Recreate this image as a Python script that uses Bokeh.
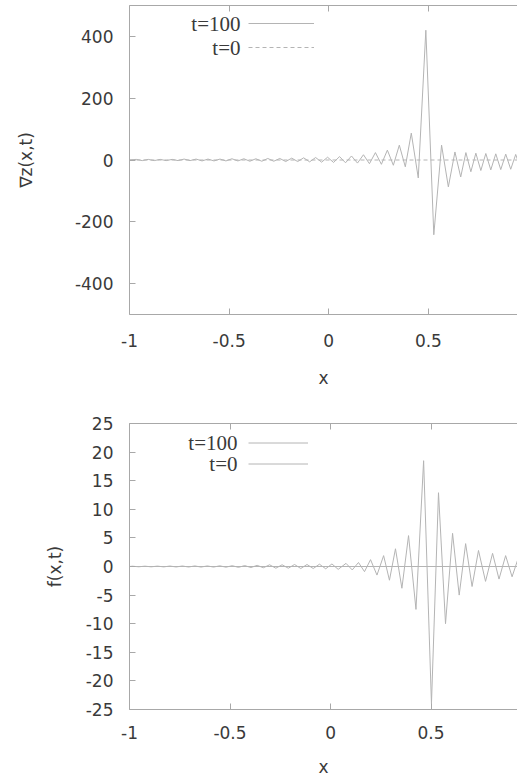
from bokeh.plotting import figure
from bokeh.models import Range1d, FixedTicker, LinearAxis, Legend, LegendItem, Label
from bokeh.layouts import column
from bokeh.embed import file_html
from bokeh.resources import INLINE

# ---------------- data ----------------
# upper panel: nabla_z(x,t), t=100 (extrema of the oscillating trace)
grad_x_t100 = [-1.0, -0.966, -0.936, -0.906, -0.876, -0.846, -0.816, -0.786, -0.756, -0.726, -0.696,
               -0.666, -0.636, -0.606, -0.576, -0.546, -0.516, -0.486, -0.456, -0.426, -0.396,
               -0.366, -0.336, -0.306, -0.276, -0.246, -0.216, -0.186, -0.156, -0.126, -0.096,
               -0.066, -0.036, -0.006, 0.024, 0.054, 0.084, 0.114, 0.144, 0.174, 0.204,
               0.234, 0.264, 0.294, 0.324, 0.354, 0.384, 0.414, 0.449, 0.487, 0.527,
               0.566, 0.600, 0.633, 0.662, 0.688, 0.713, 0.738, 0.763, 0.788, 0.813,
               0.838, 0.863, 0.888, 0.913, 0.938, 0.963, 0.988]
grad_y_t100 = [0, 2, -2, 2, -2, 2, -2, 2, -2, 3, -2,
               3, -3, 3, -3, 3, -3, 4, -3, 4, -4,
               4, -4, 5, -4, 5, -5, 6, -5, 7, -6,
               8, -7, 9, -8, 11, -9, 13, -10, 17, -12,
               24, -14, 32, -17, 48, -22, 87, -58, 420, -242,
               48, -87, 26, -55, 24, -38, 22, -34, 21, -32,
               20, -31, 19, -30, 18, -29, 17]
grad_x_t0 = [-1.0, 1.0]
grad_y_t0 = [0.0, 0.0]

# lower panel: f(x,t), t=100
f_x_t100 = [-1.0, -0.985, -0.954, -0.923, -0.892, -0.861, -0.830, -0.799, -0.768, -0.737, -0.706,
            -0.675, -0.644, -0.613, -0.582, -0.551, -0.520, -0.489, -0.458, -0.427, -0.396,
            -0.365, -0.334, -0.303, -0.272, -0.241, -0.210, -0.179, -0.148, -0.117, -0.086,
            -0.055, -0.024, 0.007, 0.038, 0.077, 0.108, 0.139, 0.169, 0.199, 0.231,
            0.264, 0.293, 0.323, 0.355, 0.388, 0.425, 0.463, 0.502, 0.537, 0.572,
            0.607, 0.640, 0.672, 0.704, 0.736, 0.771, 0.806, 0.838, 0.871, 0.903,
            0.936, 0.968, 1.0]
f_y_t100 = [0, 0.05, -0.05, 0.06, -0.06, 0.07, -0.07, 0.08, -0.08, 0.09, -0.09,
            0.1, -0.1, 0.1, -0.1, 0.12, -0.12, 0.14, -0.15, 0.16, -0.18,
            0.2, -0.22, 0.3, -0.3, 0.3, -0.3, 0.35, -0.35, 0.35, -0.35,
            0.4, -0.4, 0.45, -0.5, 0.55, -0.6, 0.7, -0.9, 1.2, -1.5,
            1.9, -2.4, 3.1, -3.8, 5.4, -7.5, 18.5, -24, 12.9, -10,
            5.8, -5, 4.0, -3.5, 2.8, -2.6, 2.3, -2.2, 1.9, -1.8,
            1.7, -1.6, 1.5]
f_x_t0 = [-1.0, 1.0]
f_y_t0 = [0.0, 0.0]

series_labels = ["t=100", "t=0"]

x_ticks = [-1, -0.5, 0, 0.5, 1]
x_tick_labels = ["-1", "-0.5", "0", "0.5", "1"]
grad_ticks = [-400, -200, 0, 200, 400]
grad_tick_labels = ["-400", "-200", "0", "200", "400"]
f_ticks = [-25, -20, -15, -10, -5, 0, 5, 10, 15, 20, 25]
f_tick_labels = ["-25", "-20", "-15", "-10", "-5", "0", "5", "10", "15", "20", "25"]

# ---------------- styling ----------------
SANS = "DejaVu Sans"
SERIF = "Liberation Serif"
TXT = "#3a3a3a"
AX = "#a8a8a8"
LINE = "#b4b4b4"


def style_axis(ax, ticks, labels, show_labels=True):
    ax.ticker = FixedTicker(ticks=ticks)
    ax.major_tick_in = 6
    ax.major_tick_out = 0
    ax.minor_tick_in = 0
    ax.minor_tick_out = 0
    ax.axis_line_color = AX
    ax.major_tick_line_color = AX
    ax.major_label_text_font = SANS
    ax.major_label_text_color = TXT
    ax.axis_label_text_font = SANS
    ax.axis_label_text_font_style = "normal"
    ax.axis_label_text_color = TXT
    if show_labels:
        ax.major_label_overrides = {t: s for t, s in zip(ticks, labels)}
        ax.major_label_text_font_size = "17px"
        ax.axis_label_text_font_size = "17px"
    else:
        # mirrored ticks only (gnuplot style frame), no labels
        ax.major_label_overrides = {t: "" for t in ticks}
        ax.major_label_text_font_size = "1px"
        ax.major_label_standoff = 0


def make_panel(height, x_end, y_lo, y_hi, yticks, ylabels, ylabel, xs, ys, x0, y0,
               dash0, min_top, min_bottom, leg_loc, glyph_w, glyph_h, lab_x, lab_y, lab_dy,
               ylab_standoff, xtick_standoff, xlab_standoff):
    p = figure(width=517, height=height, output_backend="svg", toolbar_location=None,
               x_range=Range1d(-1, x_end), y_range=Range1d(y_lo, y_hi),
               x_axis_label="x", y_axis_label=ylabel,
               min_border_left=129, min_border_right=0,
               min_border_top=min_top, min_border_bottom=min_bottom)
    p.outline_line_color = None
    p.xgrid.visible = False
    p.ygrid.visible = False
    p.background_fill_color = "white"
    p.border_fill_color = "white"

    style_axis(p.xaxis[0], x_ticks, x_tick_labels)
    p.xaxis[0].major_label_standoff = xtick_standoff
    p.xaxis[0].axis_label_standoff = xlab_standoff
    style_axis(p.yaxis[0], yticks, ylabels)
    p.yaxis[0].major_label_standoff = 16
    p.yaxis[0].axis_label_standoff = ylab_standoff

    top_ax = LinearAxis()
    style_axis(top_ax, x_ticks, x_tick_labels, show_labels=False)
    p.add_layout(top_ax, "above")

    r100 = p.line(xs, ys, line_color=LINE, line_width=1)
    r0 = p.line(x0, y0, line_color=LINE, line_width=1, line_dash=dash0)

    leg = Legend(items=[LegendItem(label=" ", renderers=[r100]),
                        LegendItem(label=" ", renderers=[r0])],
                 location=leg_loc, glyph_width=glyph_w, glyph_height=glyph_h,
                 label_width=0, label_height=0, label_standoff=0, padding=0, spacing=4,
                 margin=0, border_line_color=None, background_fill_alpha=0,
                 label_text_font_size="1px")
    p.add_layout(leg)

    for i, name in enumerate(series_labels):
        p.add_layout(Label(x=lab_x, y=lab_y - i * lab_dy, x_units="screen", y_units="screen",
                           text=name, text_align="right", text_baseline="middle",
                           text_font=SERIF, text_font_size="21px", text_color=TXT))
    return p


top = make_panel(400, 0.947, -500, 500, grad_ticks, grad_tick_labels, "∇z(x,t)",
                 grad_x_t100, grad_y_t100, grad_x_t0, grad_y_t0, "4 3",
                 5, 86, (119, 257), 66, 20, 111, 291, 24, 36, 19, 18)
bottom = make_panel(380, 0.93, -25, 25, f_ticks, f_tick_labels, "f(x,t)",
                    f_x_t100, f_y_t100, f_x_t0, f_y_t0, "solid",
                    23, 71, (119, 237), 60, 17, 108, 267, 21, 18, 16, 15)

layout = column(top, bottom, spacing=0)
open("out.html", "w").write(file_html(layout, INLINE))
